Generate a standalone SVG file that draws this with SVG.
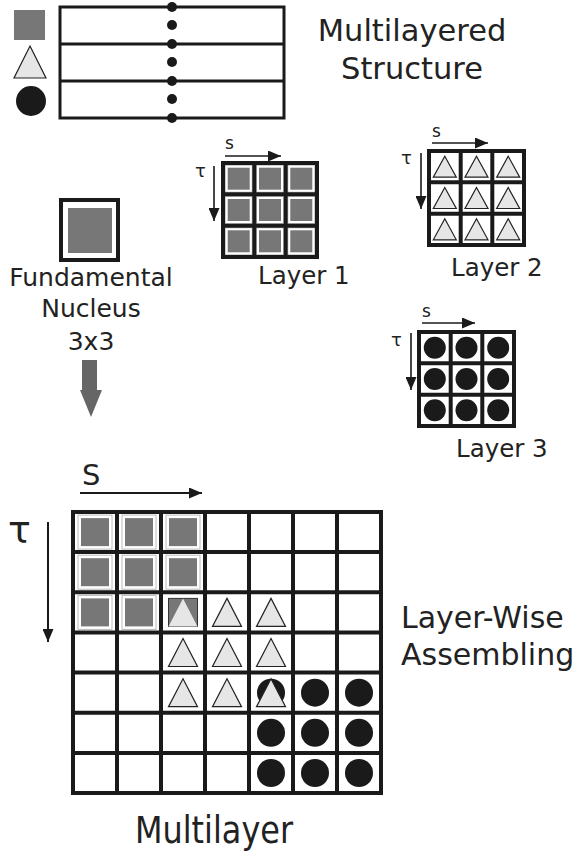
<svg xmlns="http://www.w3.org/2000/svg" xmlns:xlink="http://www.w3.org/1999/xlink" width="582" height="854" viewBox="0 0 582 854">
<style>
text{font-family:"DejaVu Sans","Liberation Sans",sans-serif;fill:#222}
.grid{fill:none;stroke:#1a1a1a;stroke-width:4}
.thin{fill:none;stroke:#1a1a1a;stroke-width:3}
.gray{fill:#777}
.frame{fill:#fff;stroke:#bbb;stroke-width:1}
.tri{fill:#e6e6e6;stroke:#222;stroke-width:1.2;stroke-linejoin:miter}
.dot{fill:#1a1a1a}
.ax{stroke:#1a1a1a;stroke-width:1.6;fill:none;marker-end:url(#ah)}
</style>
<defs>
<marker id="ah" markerUnits="userSpaceOnUse" markerWidth="14" markerHeight="11" refX="13" refY="5.5" orient="auto"><path d="M0,0 L13,5.5 L0,11 Z" fill="#1a1a1a"/></marker>
<g id="bsq"><rect class="frame" x="-17" y="-17" width="34" height="34"/><rect class="gray" x="-14" y="-14" width="28" height="28"/></g>
<g id="btri"><path class="tri" d="M0,-14 L14.5,14 L-14.5,14 Z"/></g>
<g id="bcir"><circle class="dot" r="14"/></g>
<g id="ssq"><rect class="frame" x="-13.5" y="-13.5" width="27" height="27"/><rect class="gray" x="-11" y="-11" width="22" height="22"/></g>
<g id="stri"><path class="tri" d="M0,-10.5 L11.5,10.5 L-11.5,10.5 Z"/></g>
<g id="scir"><circle class="dot" r="11"/></g>
</defs>
<rect width="582" height="854" fill="#fff"/>

<g id="legend">
<rect class="gray" x="14" y="10" width="31" height="30"/>
<path class="tri" d="M30,46 L46,78 L14,78 Z"/>
<circle class="dot" cx="31" cy="101" r="15"/>
</g>

<g id="multilayered-structure">
<rect class="thin" x="60" y="7" width="224" height="111"/>
<path class="thin" d="M60,44 H284 M60,81 H284"/>
<g class="dot">
<circle cx="172" cy="7" r="5"/><circle cx="172" cy="25" r="5"/><circle cx="172" cy="44" r="5"/><circle cx="172" cy="62" r="5"/><circle cx="172" cy="81" r="5"/><circle cx="172" cy="99" r="5"/><circle cx="172" cy="118" r="5"/>
</g>
<text x="412" y="41" font-size="30.5" text-anchor="middle">Multilayered</text>
<text x="412" y="79" font-size="30.5" text-anchor="middle">Structure</text>
</g>

<g id="layer1">
<use href="#ssq" x="238.7" y="178.7"/><use href="#ssq" x="270" y="178.7"/><use href="#ssq" x="301.3" y="178.7"/>
<use href="#ssq" x="238.7" y="210"/><use href="#ssq" x="270" y="210"/><use href="#ssq" x="301.3" y="210"/>
<use href="#ssq" x="238.7" y="241.3"/><use href="#ssq" x="270" y="241.3"/><use href="#ssq" x="301.3" y="241.3"/>
<path class="grid" d="M223,163 H317 V257 H223 Z M254.3,163 V257 M285.7,163 V257 M223,194.3 H317 M223,225.7 H317"/>
<text x="225" y="149" font-size="17">s</text>
<text x="195" y="177" font-size="18">τ</text>
<text x="258" y="284" font-size="24.5">Layer 1</text>
</g>

<g id="layer2">
<use href="#stri" x="444.8" y="166.7"/><use href="#stri" x="476.5" y="166.7"/><use href="#stri" x="508.2" y="166.7"/>
<use href="#stri" x="444.8" y="198"/><use href="#stri" x="476.5" y="198"/><use href="#stri" x="508.2" y="198"/>
<use href="#stri" x="444.8" y="229.3"/><use href="#stri" x="476.5" y="229.3"/><use href="#stri" x="508.2" y="229.3"/>
<path class="grid" d="M429,151 H524 V245 H429 Z M460.7,151 V245 M492.3,151 V245 M429,182.3 H524 M429,213.7 H524"/>
<text x="432" y="137" font-size="17">s</text>
<text x="401" y="164" font-size="18">τ</text>
<text x="451" y="276" font-size="24.5">Layer 2</text>
</g>

<g id="layer3">
<use href="#scir" x="434.8" y="347.7"/><use href="#scir" x="466.5" y="347.7"/><use href="#scir" x="498.2" y="347.7"/>
<use href="#scir" x="434.8" y="379"/><use href="#scir" x="466.5" y="379"/><use href="#scir" x="498.2" y="379"/>
<use href="#scir" x="434.8" y="410.3"/><use href="#scir" x="466.5" y="410.3"/><use href="#scir" x="498.2" y="410.3"/>
<path class="grid" d="M419,332 H514 V426 H419 Z M450.7,332 V426 M482.3,332 V426 M419,363.3 H514 M419,394.7 H514"/>
<text x="422" y="317" font-size="17">s</text>
<text x="391" y="346" font-size="18">τ</text>
<text x="456" y="457" font-size="24.5">Layer 3</text>
</g>

<g id="fundamental-nucleus">
<rect class="grid" x="61" y="200" width="57" height="60"/>
<rect class="gray" x="68" y="208" width="44" height="45"/>
<text x="91" y="286" font-size="25" text-anchor="middle">Fundamental</text>
<text x="91" y="317" font-size="25" text-anchor="middle">Nucleus</text>
<text x="91" y="350" font-size="25" text-anchor="middle">3x3</text>
</g>

<g id="multilayer">
<use href="#bsq" x="95" y="532.1"/><use href="#bsq" x="139" y="532.1"/><use href="#bsq" x="183" y="532.1"/>
<use href="#bsq" x="95" y="572.2"/><use href="#bsq" x="139" y="572.2"/><use href="#bsq" x="183" y="572.2"/>
<use href="#bsq" x="95" y="612.4"/><use href="#bsq" x="139" y="612.4"/>
<rect x="168.5" y="598.4" width="29" height="28" fill="#777" stroke="#333" stroke-width="1"/>
<path d="M183,598.4 L197.5,626.4 L168.5,626.4 Z" fill="#e6e6e6"/>
<use href="#btri" x="227" y="612.4"/><use href="#btri" x="271" y="612.4"/>
<use href="#btri" x="183" y="652.5"/><use href="#btri" x="227" y="652.5"/><use href="#btri" x="271" y="652.5"/>
<use href="#btri" x="183" y="692.7"/><use href="#btri" x="227" y="692.7"/>
<use href="#bcir" x="271" y="692.7"/><use href="#btri" x="271" y="692.7"/>
<use href="#bcir" x="315" y="692.7"/><use href="#bcir" x="359" y="692.7"/>
<use href="#bcir" x="271" y="732.8"/><use href="#bcir" x="315" y="732.8"/><use href="#bcir" x="359" y="732.8"/>
<use href="#bcir" x="271" y="773"/><use href="#bcir" x="315" y="773"/><use href="#bcir" x="359" y="773"/>
<path class="grid" d="M73,512 H381 V793 H73 Z M117,512 V793 M161,512 V793 M205,512 V793 M249,512 V793 M293,512 V793 M337,512 V793 M73,552.1 H381 M73,592.3 H381 M73,632.4 H381 M73,672.6 H381 M73,712.7 H381 M73,752.9 H381"/>
<text x="82" y="485" font-size="29">S</text>
<text x="8" y="543" font-size="38">τ</text>
<text x="135" y="843" font-size="37" textLength="158" lengthAdjust="spacingAndGlyphs">Multilayer</text>
<text x="401" y="628" font-size="30">Layer-Wise</text>
<text x="401" y="665" font-size="30">Assembling</text>
</g>

<g id="connectors">
<path class="ax" d="M225,156 H281"/>
<path class="ax" d="M214,166 V221"/>
<path class="ax" d="M432,143 H488"/>
<path class="ax" d="M421,153 V209"/>
<path class="ax" d="M422,323 H475"/>
<path class="ax" d="M411,333 V390"/>
<path class="ax" style="stroke-width:2" d="M80,493 H202"/>
<path class="ax" style="stroke-width:2" d="M48,522 V642"/>
<path d="M82,360 H97 V390 H102 L91,417 L80,390 H82 Z" fill="#666"/>
</g>
</svg>
